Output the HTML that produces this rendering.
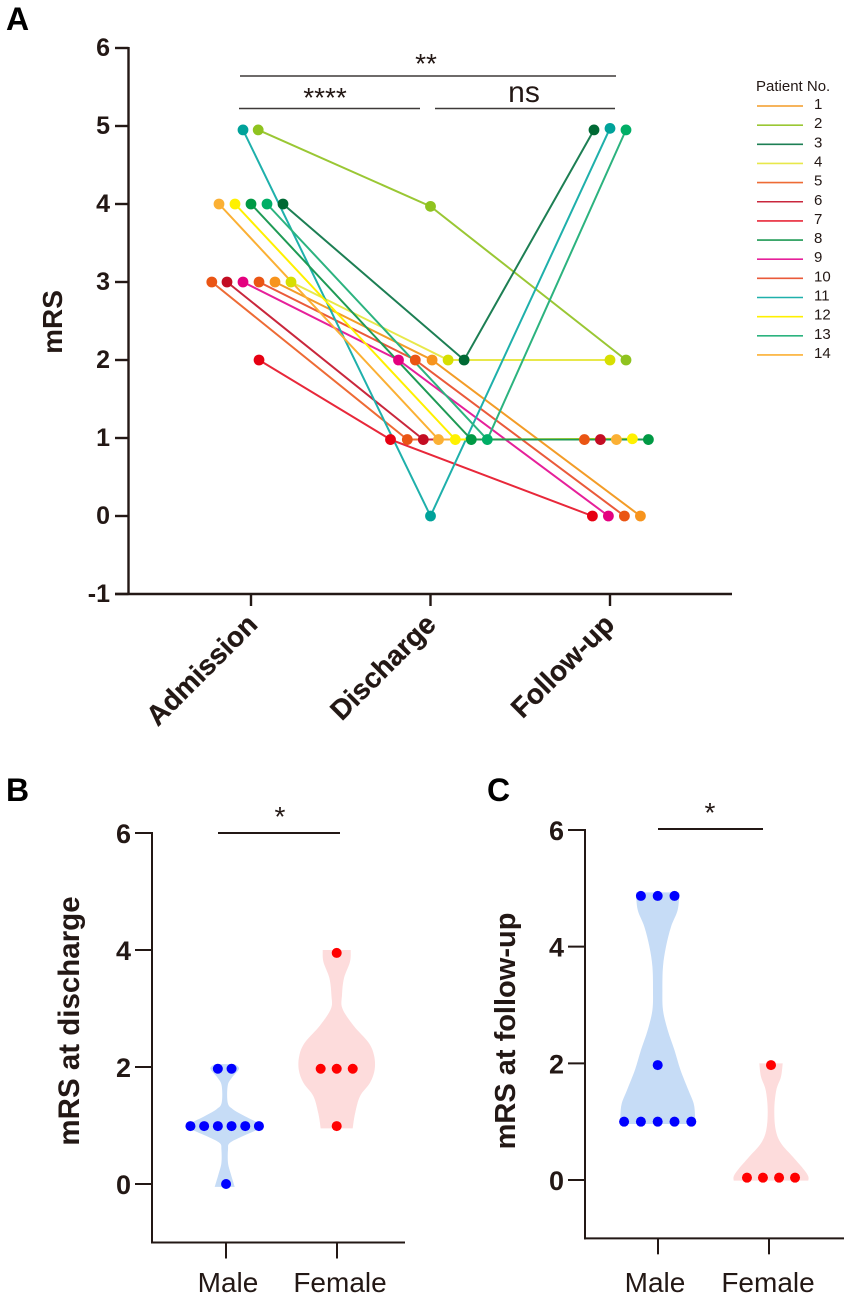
<!DOCTYPE html>
<html lang="en">
<head>
<meta charset="utf-8">
<title>mRS scores chart</title>
<style>
html,body{margin:0;padding:0;background:#fff;width:851px;height:1300px;overflow:hidden}
svg{display:block;font-family:"Liberation Sans",sans-serif}
.bold{font-weight:700;fill:#231815}
</style>
</head>
<body>
<svg id="figure" width="851" height="1300" viewBox="0 0 851 1300" xmlns="http://www.w3.org/2000/svg">
  <text x="6" y="30" font-size="32" font-weight="700" fill="#000">A</text>
  <text x="6" y="801" font-size="32" font-weight="700" fill="#000">B</text>
  <text x="487" y="801" font-size="32" font-weight="700" fill="#000">C</text>

  <text class="bold" font-size="28" text-anchor="middle" transform="translate(62 322) rotate(-90)">mRS</text>
  <text class="bold" font-size="29.500" text-anchor="middle" transform="translate(79 1021) rotate(-90)">mRS at discharge</text>
  <text class="bold" font-size="29" text-anchor="middle" transform="translate(515 1031) rotate(-90)">mRS at follow-up</text>

  <g>
    <line x1="240" y1="76" x2="616" y2="76" stroke="#3e3a39" stroke-width="1.6"/>
    <text x="426" y="73" font-size="28" text-anchor="middle" fill="#231815">**</text>
    <line x1="239" y1="108.500" x2="420" y2="108.500" stroke="#3e3a39" stroke-width="1.6"/>
    <text x="325" y="107" font-size="28" text-anchor="middle" fill="#231815">****</text>
    <line x1="435" y1="108.500" x2="615" y2="108.500" stroke="#3e3a39" stroke-width="1.6"/>
    <text x="524" y="102" font-size="30" text-anchor="middle" fill="#231815">ns</text>
  </g>

  <g>
    <line x1="218" y1="833" x2="340" y2="833" stroke="#231815" stroke-width="2"/>
    <text x="280" y="826" font-size="28" text-anchor="middle" fill="#231815">*</text>
  </g>
  <g>
    <line x1="658" y1="829" x2="763" y2="829" stroke="#231815" stroke-width="2"/>
    <text x="710" y="822" font-size="28" text-anchor="middle" fill="#231815">*</text>
  </g>

  <text x="756" y="91" font-size="15" fill="#231815">Patient No.</text>
  <g id="panelA"></g>
  <g id="panelB"></g>
  <g id="panelC"></g>
</svg>

<script>
// ---- Panel A data ----
const timepoints = ['Admission', 'Discharge', 'Follow-up'];
const yTicksA = [-1, 0, 1, 2, 3, 4, 5, 6];
const patients = ['1','2','3','4','5','6','7','8','9','10','11','12','13','14'];
const admission = [3, 4.95, 4, 3, 3, 3, 2, 4, 3, 3, 4.95, 4, 4, 4];
const discharge = [2, 3.97, 2, 2, 0.98, 0.98, 0.98, 0.98, 2, 2, 0, 0.98, 0.98, 0.98];
const followup = [0, 2, 4.95, 2, 0.98, 0.98, 0, 0.98, 0, 0, 4.97, 0.99, 4.95, 0.98];
// swarm slots (dot widths from the category centre)
const slotsAdmission = [1.5, 0.45, 2, 2.5, -2.45, -1.5, 0.5, 0, -0.5, 0.5, -0.5, -1, 1, -2];
const slotsDischarge = [0.1, 0, 2.1, 1.1, -1.45, -0.45, -2.5, 2.55, -2, -0.95, 0, 1.55, 3.55, 0.5];
const slotsFollowup = [1.9, 1, -1, 0, -1.6, -0.6, -1.1, 2.4, -0.1, 0.9, 0, 1.4, 1, 0.4];
const lineColors = ['#f39c27','#9ac734','#1d7f54','#e8e84a','#ee6b35','#c9273c','#e8283a','#1f9a55','#e6209a','#ea5a3a','#1fb0ab','#fff000','#2cb37f','#fbb034'];
const dotColors = ['#f7941d','#8fc31f','#006934','#d7df01','#ea5514','#c30d23','#e60012','#009944','#e4007f','#ea5514','#00a29a','#fff100','#00ae66','#fbb034'];
const lineDrawOrder = [0, 1, 2, 3, 4, 5, 6, 8, 9, 10, 13, 11, 12, 7];

// ---- Panel B data ----
const groupLabels = ['Male', 'Female'];
const yTicksBC = [0, 2, 4, 6];
const bMaleValues = [1.97, 1.97, 0.99, 0.99, 0.99, 0.99, 0.99, 0.99, 0];
const bMaleSlots = [-0.5, 0.5, -2.5, -1.5, -0.5, 0.5, 1.5, 2.5, 0.1];
const bFemaleValues = [3.95, 1.97, 1.97, 1.97, 0.99];
const bFemaleSlots = [0, -1, 0, 1, 0];
const bMaleLevels = [2.05, 1.97, 1.82, 1.68, 1.39, 1.28, 1.16, 1.05, 0.99, 0.93, 0.81, 0.7, 0.59, 0.36, 0.18, -0.05];
const bMaleDensity = [10, 14.3, 7.3, 3, 3, 8, 20, 33, 38.5, 33, 17, 5, 3.3, 3.3, 6, 10];
const bFemaleLevels = [4.0, 3.8, 3.52, 3.23, 3.0, 2.71, 2.42, 2.2, 1.96, 1.73, 1.5, 1.2, 0.95];
const bFemaleDensity = [14, 13.3, 7.3, 5.3, 5.7, 16.7, 31.7, 37.3, 38, 33.3, 23.3, 18.3, 16];

// ---- Panel C data ----
const cMaleValues = [4.87, 4.87, 4.87, 1.97, 1, 1, 1, 1, 1];
const cMaleSlots = [-1, 0, 1, 0, -2, -1, 0, 1, 2];
const cFemaleValues = [1.97, 0.04, 0.04, 0.04, 0.04];
const cFemaleSlots = [0, -1.43, -0.48, 0.48, 1.43];
const cMaleLevels = [4.93, 4.63, 4.34, 4.0, 3.66, 3.26, 2.91, 2.57, 2.23, 1.89, 1.54, 1.31, 1.11, 0.96];
const cMaleDensity = [21.7, 20, 13.3, 8.3, 5.3, 4.7, 5.3, 10, 16.7, 22.7, 30.7, 36, 37.3, 37.3];
const cFemaleLevels = [2.0, 1.77, 1.54, 1.2, 0.86, 0.63, 0.4, 0.17, 0.06, -0.01];
const cFemaleDensity = [11.7, 10, 5.3, 3.3, 4.7, 10, 21.7, 33.3, 37.3, 37.3];

const NS = 'http://www.w3.org/2000/svg';
const INK = '#231815';
function mk(parent, tag, attrs, text) {
  const el = document.createElementNS(NS, tag);
  for (const k in attrs) el.setAttribute(k, attrs[k]);
  if (text !== undefined) el.textContent = text;
  parent.appendChild(el);
  return el;
}

// ---- Panel A ----
const gA = document.getElementById('panelA');
const yA = v => 516 - 78 * v;
const centerA = i => 251 + 179.5 * i;
const xA = (i, slot) => centerA(i) + 16 * slot;

let el = mk(gA, 'line', {x1: 128.5, y1: yA(6) - 1, x2: 128.5, y2: yA(-1), stroke: INK, 'stroke-width': 2.4});


el = mk(gA, 'line', {x1: 115, y1: yA(-1), x2: 732, y2: yA(-1), stroke: INK, 'stroke-width': 2.4});



yTicksA.forEach(t => {
  const tick = mk(gA, 'line', {x1: 115, y1: yA(t), x2: 128.5, y2: yA(t), stroke: INK, 'stroke-width': 2.4});
  
  
  const lab = mk(gA, 'text', {x: 110, y: yA(t) + 8, 'font-size': 25, 'text-anchor': 'end', class: 'bold'}, String(t));
  
  
});
timepoints.forEach((name, i) => {
  const cx = centerA(i);
  const tick = mk(gA, 'line', {x1: cx, y1: yA(-1), x2: cx, y2: 606, stroke: INK, 'stroke-width': 2.4});
  
  
  const lab = mk(gA, 'text', {'font-size': 28, 'text-anchor': 'end', class: 'bold', stroke: INK, 'stroke-width': 0.3, transform: 'translate(' + (cx + 8 - i) + ' 626) rotate(-45)'}, name);
  
  
});

const series = [admission, discharge, followup];
const slots = [slotsAdmission, slotsDischarge, slotsFollowup];
lineDrawOrder.forEach(k => {
  const pts = series.map((s, i) => xA(i, slots[i][k]) + ',' + yA(s[k])).join(' ');
  const line = mk(gA, 'polyline', {points: pts, fill: 'none', stroke: lineColors[k], 'stroke-width': 2});
  
  
});
patients.forEach((p, k) => {
  series.forEach((s, i) => {
    const dot = mk(gA, 'circle', {cx: xA(i, slots[i][k]), cy: yA(s[k]), r: 5.4, fill: dotColors[k]});
    
    
  });
});
const legendY = i => 106 + 19.15 * i;
patients.forEach((p, k) => {
  const sw = mk(gA, 'line', {x1: 757, y1: legendY(k), x2: 803, y2: legendY(k), stroke: lineColors[k], 'stroke-width': 1.6});
  
  
  const lab = mk(gA, 'text', {x: 814, y: legendY(k) + 3, 'font-size': 15, fill: INK}, p);
  
  
});

// ---- Panels B and C ----
function smoothSide(pts) {
  let d = '';
  for (let i = 0; i < pts.length - 1; i++) {
    const p0 = pts[Math.max(i - 1, 0)], p1 = pts[i], p2 = pts[i + 1], p3 = pts[Math.min(i + 2, pts.length - 1)];
    d += ' C' + (p1[0] + (p2[0] - p0[0]) / 6) + ' ' + (p1[1] + (p2[1] - p0[1]) / 6) + ' ' +
         (p2[0] - (p3[0] - p1[0]) / 6) + ' ' + (p2[1] - (p3[1] - p1[1]) / 6) + ' ' + p2[0] + ' ' + p2[1];
  }
  return d;
}
function violinPath(cx, levels, density, y) {
  const right = levels.map((v, i) => [cx + density[i], y(v)]);
  const left = levels.map((v, i) => [cx - density[i], y(v)]).reverse();
  return 'M' + right[0][0] + ' ' + right[0][1] + smoothSide(right) + ' L' + left[0][0] + ' ' + left[0][1] + smoothSide(left) + ' Z';
}
function drawPanel(g, cfg) {
  const y = v => cfg.y0 - cfg.unit * v;
  const yBottom = y(-1);
  let axis = mk(g, 'line', {x1: cfg.axisX, y1: y(6) - 1, x2: cfg.axisX, y2: yBottom + 1, stroke: INK, 'stroke-width': 2});
  
  
  axis = mk(g, 'line', {x1: cfg.axisX - 1, y1: yBottom, x2: cfg.axisEnd, y2: yBottom, stroke: INK, 'stroke-width': 2});
  
  
  yTicksBC.forEach(t => {
    const tick = mk(g, 'line', {x1: cfg.axisX - 17, y1: y(t), x2: cfg.axisX, y2: y(t), stroke: INK, 'stroke-width': 2});
    
    
    const lab = mk(g, 'text', {x: cfg.axisX - 21, y: y(t) + 10, 'font-size': 27, 'text-anchor': 'end', class: 'bold'}, String(t));
    
    
  });
  groupLabels.forEach((name, i) => {
    const cx = cfg.ticks[i];
    const tick = mk(g, 'line', {x1: cx, y1: yBottom, x2: cx, y2: yBottom + 16, stroke: INK, 'stroke-width': 2});
    
    
    const lab = mk(g, 'text', {x: cfg.labelX[i], y: 1292, 'font-size': 28, 'text-anchor': 'middle', fill: INK}, name);
    
    
  });
  cfg.groups.forEach(gr => {
    const v = mk(g, 'path', {d: violinPath(gr.cx, gr.levels, gr.density, y), fill: gr.fill});
    
    
  });
  cfg.groups.forEach(gr => {
    gr.values.forEach((val, i) => {
      const dot = mk(g, 'circle', {cx: gr.cx + gr.slots[i] * cfg.spacing + (gr.dx || 0), cy: y(val), r: 5, fill: gr.dot});
      
      
    });
  });
}
drawPanel(document.getElementById('panelB'), {
  y0: 1184, unit: 58.5, axisX: 152, axisEnd: 405, ticks: [226, 337], labelX: [228, 340], spacing: 13.7,
  groups: [
    {cx: 224.7, dx: 0, levels: bMaleLevels, density: bMaleDensity, fill: '#c6dcf6', dot: '#0000ff', values: bMaleValues, slots: bMaleSlots},
    {cx: 336.7, dx: 0, levels: bFemaleLevels, density: bFemaleDensity, fill: '#fddcdc', dot: '#ff0000', values: bFemaleValues, slots: bFemaleSlots.map(s => s * 1.17)}
  ]
});
drawPanel(document.getElementById('panelC'), {
  y0: 1180, unit: 58.33, axisX: 585, axisEnd: 844, ticks: [658, 769], labelX: [655, 768], spacing: 16.8,
  groups: [
    {cx: 657.7, levels: cMaleLevels, density: cMaleDensity, fill: '#c6dcf6', dot: '#0000ff', values: cMaleValues, slots: cMaleSlots},
    {cx: 771, levels: cFemaleLevels, density: cFemaleDensity, fill: '#fddcdc', dot: '#ff0000', values: cFemaleValues, slots: cFemaleSlots, dx: 0}
  ]
});
</script>
</body>
</html>
